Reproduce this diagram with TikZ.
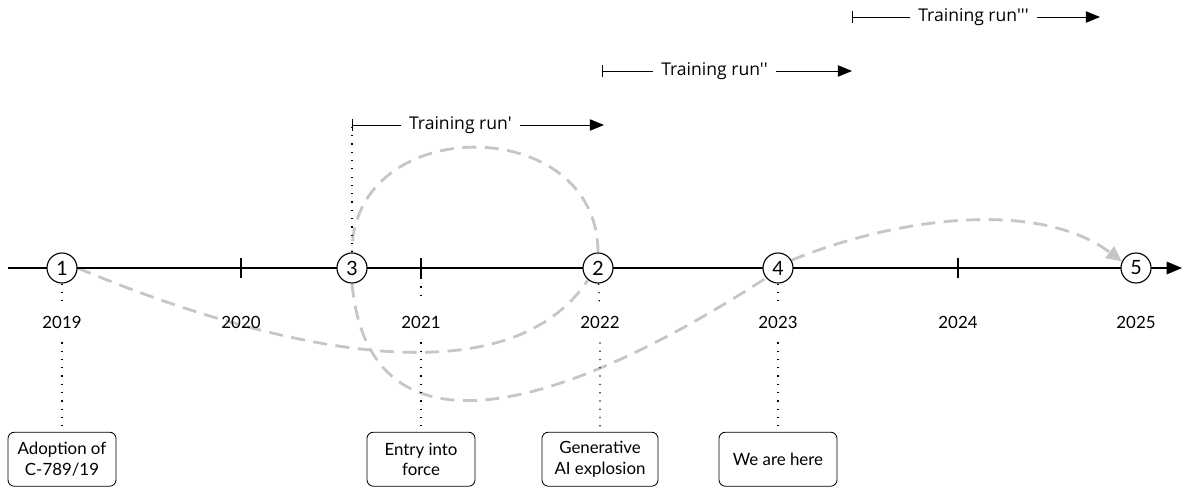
\documentclass[tikz,border=0pt]{standalone}
\usepackage{fontspec}
\setmainfont{Lato}
\newfontfamily\runfont{Open Sans}
\usetikzlibrary{arrows.meta,backgrounds}
\begin{document}
\begin{tikzpicture}[>=Stealth,x=1cm,y=1cm,font=\fontsize{12}{14.5}\selectfont,
		event/.style={circle,draw,line width=0.8pt,fill=white,minimum size=0.75cm,inner sep=0pt,font=\fontsize{14}{16}\selectfont},
		year/.style={minimum height=1cm,inner sep=0pt},
		note/.style={draw,line width=0.6pt,rounded corners=4.5pt,align=center,minimum width=2.7cm,minimum height=1.35cm,inner sep=2pt},
		trail/.style={draw=gray!45,line width=2pt,dash pattern=on 10pt off 6pt},
		guide/.style={line width=0.9pt,dash pattern=on 0.9pt off 5pt},
		run/.style={{Bar[width=9pt]}-{Triangle[length=10pt,width=8pt]},line width=0.7pt},
		runlabel/.style={fill=white,inner xsep=6pt,font=\runfont\fontsize{12.5}{15}\selectfont}]
		\useasboundingbox (0,0) rectangle (29.6,12.2);
		\draw[-{Triangle[length=11pt,width=9pt]},line width=0.9pt] (0.2,5.5) coordinate (start) -- (29.55,5.5) coordinate (end);
		\foreach \x/\t in {6.025/2020,10.525/2021,23.95/2024}
			\draw[line width=0.8pt] (\x,5.25) coordinate (t\t) -- (\x,5.75);
		\node[event] (e1) at (1.55,5.5) {1};
		\node[event] (e3) at (8.8,5.5) {3};
		\node[event] (e2) at (14.95,5.5) {2};
		\node[event] (e4) at (19.45,5.5) {4};
		\node[event] (e5) at (28.4,5.5) {5};
		\foreach \x/\y in {1.55/2019,6.025/2020,10.525/2021,15.0/2022,19.45/2023,23.95/2024,28.4/2025}
			\node[year] (y\y) at (\x,4.15) {\y};
		\node[note] (b2019) at (1.55,0.72) {Adoption of\\C-789/19};
		\node[note] (b2021) at (10.525,0.72) {Entry into\\force};
		\node[note,minimum width=2.9cm] (b2022) at (15.0,0.72) {Generative\\AI explosion};
		\node[note,minimum width=2.95cm] (b2023) at (19.45,0.72) {We are here};
		\draw[guide] (e1) -- (y2019) (y2019) -- (b2019);
		\draw[guide] (t2021) -- (y2021) (y2021) -- (b2021);
		\draw[guide] (e2) -- (y2022) (y2022) -- (b2022);
		\draw[guide] (e4) -- (y2023) (y2023) -- (b2023);
		\draw[run] (8.8,9.075) coordinate (r1) -- node[runlabel,pos=0.43] {Training run'} (15.1,9.075);
		\draw[run] (15.05,10.425) coordinate (r2) -- node[runlabel,pos=0.45] {Training run''} (21.3,10.425);
		\draw[run] (21.3,11.775) coordinate (r3) -- node[runlabel,pos=0.49] {Training run'''} (27.5,11.775);
		\draw[guide] (e3) -- (r1);
		\begin{scope}[on background layer]
			\draw[trail,-{Triangle[length=11pt,width=10pt]}]
				(e1.east) .. controls (6,3.8) and (12.5,1.9) .. (e2.230)
				(e2.north) .. controls (14.95,9.4) and (8.8,9.4) .. (e3.north)
				(e3.south) .. controls (9.2,0.8) and (13.5,1.6) .. (e4.220)
				(e4.30) .. controls (22.5,6.8) and (26,7.2) .. (e5.155);
		\end{scope}
\end{tikzpicture}
\end{document}
